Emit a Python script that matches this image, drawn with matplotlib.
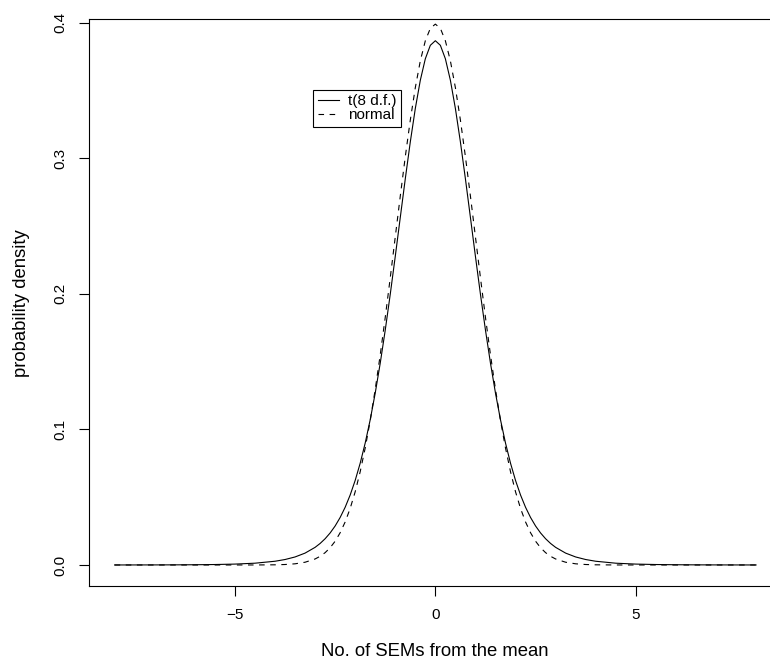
import matplotlib
matplotlib.use("Agg")
import matplotlib.pyplot as plt

plt.rcParams['font.family'] = ['Liberation Sans', 'DejaVu Sans']

# x positions (No. of SEMs from the mean)
x_vals = [-8.0, -7.5, -7.0, -6.5, -6.0, -5.5, -5.0, -4.5,
          -4.0, -3.75, -3.5, -3.25, -3.0,
          -2.875, -2.75, -2.625, -2.5, -2.375, -2.25, -2.125,
          -2.0, -1.875, -1.75, -1.625, -1.5, -1.375, -1.25, -1.125,
          -1.0, -0.875, -0.75, -0.625, -0.5, -0.375, -0.25, -0.125,
          0.0,
          0.125, 0.25, 0.375, 0.5, 0.625, 0.75, 0.875, 1.0,
          1.125, 1.25, 1.375, 1.5, 1.625, 1.75, 1.875, 2.0,
          2.125, 2.25, 2.375, 2.5, 2.625, 2.75, 2.875,
          3.0, 3.25, 3.5, 3.75, 4.0,
          4.5, 5.0, 5.5, 6.0, 6.5, 7.0, 7.5, 8.0]

# t distribution, 8 d.f.
t8_density = [0.00002, 0.000033, 0.000056, 0.00010, 0.00018, 0.00034, 0.00066, 0.00132,
              0.00276, 0.00403, 0.00592, 0.00876, 0.01301,
              0.01587, 0.01936, 0.02361, 0.02877, 0.03504, 0.04257, 0.05161,
              0.06237, 0.07507, 0.08994, 0.10713, 0.12677, 0.14886, 0.17326, 0.19968,
              0.22762, 0.25631, 0.28482, 0.31203, 0.33670, 0.35754, 0.37339, 0.38332,
              0.38670,
              0.38332, 0.37339, 0.35754, 0.33670, 0.31203, 0.28482, 0.25631, 0.22762,
              0.19968, 0.17326, 0.14886, 0.12677, 0.10713, 0.08994, 0.07507, 0.06237,
              0.05161, 0.04257, 0.03504, 0.02877, 0.02361, 0.01936, 0.01587,
              0.01301, 0.00876, 0.00592, 0.00403, 0.00276,
              0.00132, 0.00066, 0.00034, 0.00018, 0.00010, 0.000056, 0.000033, 0.00002]

# normal distribution
normal_density = [0.0, 0.0, 0.0, 0.0, 0.0, 0.0, 0.0000015, 0.000016,
                  0.00013, 0.00035, 0.00087, 0.00203, 0.00443,
                  0.00640, 0.00909, 0.01272, 0.01753, 0.02377, 0.03174, 0.04172,
                  0.05399, 0.06879, 0.08628, 0.10654, 0.12952, 0.15501, 0.18265, 0.21188,
                  0.24197, 0.27206, 0.30114, 0.32816, 0.35207, 0.37186, 0.38667, 0.39584,
                  0.39894,
                  0.39584, 0.38667, 0.37186, 0.35207, 0.32816, 0.30114, 0.27206, 0.24197,
                  0.21188, 0.18265, 0.15501, 0.12952, 0.10654, 0.08628, 0.06879, 0.05399,
                  0.04172, 0.03174, 0.02377, 0.01753, 0.01272, 0.00909, 0.00640,
                  0.00443, 0.00203, 0.00087, 0.00035, 0.00013,
                  0.000016, 0.0000015, 0.0, 0.0, 0.0, 0.0, 0.0, 0.0]

x_ticks = [-5, 0, 5]
x_ticklabels = ['\u22125', '0', '5']
y_ticks = [0.0, 0.1, 0.2, 0.3, 0.4]
y_ticklabels = ['0.0', '0.1', '0.2', '0.3', '0.4']

W, H = 770, 659
fig = plt.figure(figsize=(W / 100, H / 100), dpi=100)
left_px, right_px, top_px, bottom_px = 89, 781.7, 19.3, 586
ax = fig.add_axes([left_px / W, (H - bottom_px) / H,
                   (right_px - left_px) / W, (bottom_px - top_px) / H])

ax.plot(x_vals, t8_density, color='black', lw=0.8, label='t(8 d.f.)')
ax.plot(x_vals, normal_density, color='black', lw=0.8, linestyle=(0, (5, 5)), label='normal')

ax.set_xlim(-8.64, 8.64)
ax.set_ylim(-0.0155, 0.4025)
ax.set_xticks(x_ticks)
ax.set_xticklabels(x_ticklabels)
ax.set_yticks(y_ticks)
ax.set_yticklabels(y_ticklabels, rotation=90, va='center')

for s in ax.spines.values():
    s.set_linewidth(0.8)
    s.set_color('black')
ax.spines['right'].set_visible(False)

ax.tick_params(axis='both', direction='out', length=7.5, width=0.8,
               labelsize=11, pad=8, color='black')

ax.set_xlabel('No. of SEMs from the mean', fontsize=13.3, va='center')
ax.set_ylabel('probability density', fontsize=13.3, va='center')
ax.xaxis.set_label_coords((435 - left_px) / (right_px - left_px), (bottom_px - 651) / (bottom_px - top_px))
ax.yaxis.set_label_coords((22 - left_px) / (right_px - left_px), 0.5)

leg = ax.legend(loc='upper left', bbox_to_anchor=(0.324, 0.876), fontsize=11,
                frameon=True, fancybox=False, edgecolor='black', framealpha=1,
                handlelength=1.4, handletextpad=0.55, borderpad=0.3,
                labelspacing=0.0, borderaxespad=0)
leg.get_frame().set_linewidth(0.8)

fig.savefig('out.png', dpi=100)
